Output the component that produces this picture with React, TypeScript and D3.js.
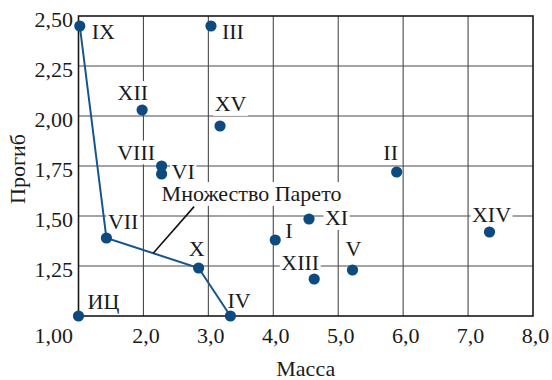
import React from "react";
import * as d3 from "d3";

// Variants of the structure: mass vs. deflection
const designs = ["ИЦ", "I", "II", "III", "IV", "V", "VI", "VII", "VIII", "IX", "X", "XI", "XII", "XIII", "XIV", "XV"];
const mass = [1.0, 4.03, 5.9, 3.04, 3.34, 5.22, 2.28, 1.43, 2.28, 1.02, 2.85, 4.55, 1.98, 4.63, 7.33, 3.18];
const deflection = [1.0, 1.38, 1.72, 2.45, 1.0, 1.23, 1.71, 1.39, 1.75, 2.45, 1.24, 1.485, 2.03, 1.185, 1.42, 1.95];

// Pareto front, in order along the curve
const paretoFront = ["IX", "VII", "X", "IV"];

const xTicks = [1.0, 2.0, 3.0, 4.0, 5.0, 6.0, 7.0, 8.0];
const yTicks = [1.0, 1.25, 1.5, 1.75, 2.0, 2.25, 2.5];

const xTitle = "Масса";
const yTitle = "Прогиб";
const frontTitle = "Множество Парето";

// Label placement around each marker: text anchor and offset from the dot centre
type Anchor = "start" | "middle" | "end";
const labelPlacement: Record<string, [Anchor, number, number]> = {
  "ИЦ": ["start", 9, -7],
  I: ["start", 10, -2.5],
  II: ["middle", -6, -12.5],
  III: ["start", 11, 13],
  IV: ["start", -3, -8],
  V: ["middle", 1, -14],
  VI: ["start", 10, 4.5],
  VII: ["start", 1.5, -9.5],
  VIII: ["end", -6.5, -6.5],
  IX: ["start", 12, 13],
  X: ["middle", -2, -12.5],
  XI: ["start", 16, 6],
  XII: ["end", 6, -10],
  XIII: ["end", 5, -9],
  XIV: ["middle", 2, -10],
  XV: ["middle", 10.5, -15],
};

const W = 552;
const H = 380;
const FONT_STACK = '"Liberation Serif", "Times New Roman", Tinos, serif';
const FS = 22;
const BLUE = "#0d4a7f";
const INK = "#1a1a1a";

const fmtX = (v: number) => v.toFixed(1).replace(".", ",");
const fmtY = (v: number) => v.toFixed(2).replace(".", ",");

let measureCtx: CanvasRenderingContext2D | null = null;
function textWidth(s: string): number {
  if (!measureCtx) {
    measureCtx = document.createElement("canvas").getContext("2d");
  }
  if (!measureCtx) return s.length * FS * 0.55;
  measureCtx.font = `${FS}px ${FONT_STACK}`;
  return measureCtx.measureText(s).width;
}

// white plate behind a label so grid lines stop at the text
function plate(s: string, tx: number, ty: number, anchor: Anchor, pad: number) {
  const w = textWidth(s);
  const left = anchor === "start" ? tx : anchor === "middle" ? tx - w / 2 : tx - w;
  return {
    x: left - pad,
    y: ty - FS * 0.86,
    width: w + 2 * pad,
    height: FS * 1.08,
  };
}

const txtStyle: React.CSSProperties = {
  fontFamily: FONT_STACK,
  fontSize: `${FS}px`,
  fill: INK,
};
const txt = { fontFamily: FONT_STACK, fontSize: FS, fill: INK, style: txtStyle };

export default function App() {
  const x = d3.scaleLinear().domain([1, 8]).range([78.5, 533]);
  const y = d3.scaleLinear().domain([1, 2.5]).range([316, 16]);

  const pts = designs.map((name, i) => ({ name, m: mass[i], d: deflection[i] }));
  const byName = new Map(pts.map((p) => [p.name, p]));

  const front = paretoFront.map((n) => byName.get(n)!);
  const frontPath = d3.line<{ m: number; d: number }>().x((p) => x(p.m)).y((p) => y(p.d))(front) || "";

  // leader from the caption down to the VII–X segment
  const a = byName.get("VII")!;
  const b = byName.get("X")!;
  const leadX = 2.15;
  const leadY = a.d + ((leadX - a.m) / (b.m - a.m)) * (b.d - a.d);

  const labels = pts.map((p) => {
    const [anchor, dx, dy] = labelPlacement[p.name];
    const lx = x(p.m) + dx;
    const ly = y(p.d) + dy;
    return { ...p, anchor, lx, ly, bg: plate(p.name, lx, ly, anchor, 1.5) };
  });

  const capX = x(2.28);
  const capY = y(1.575);
  const capBg = plate(frontTitle, capX, capY, "start", 2);

  return (
    <svg
      width={W}
      height={H}
      style={{ position: "absolute", left: 0, top: 0, background: "#fff", fontFamily: FONT_STACK }}
    >
      {/* grid */}
      <g stroke="#4a4a4a" strokeWidth={1.1}>
        {xTicks.slice(1, -1).map((t) => (
          <line key={`v${t}`} x1={x(t)} x2={x(t)} y1={y(2.5)} y2={y(1)} />
        ))}
        {yTicks.slice(1, -1).map((t) => (
          <line key={`h${t}`} x1={x(1)} x2={x(8)} y1={y(t)} y2={y(t)} />
        ))}
      </g>

      {/* plates behind labels */}
      <g fill="#fff">
        {labels.map((l) => (
          <rect key={`bg${l.name}`} {...l.bg} />
        ))}
        <rect {...capBg} />
      </g>

      {/* Pareto front */}
      <path d={frontPath} fill="none" stroke="#17548c" strokeWidth={2} />
      <line x1={x(2.78)} y1={y(1.547)} x2={x(leadX)} y2={y(leadY)} stroke="#111" strokeWidth={1.6} />

      {/* frame */}
      <rect
        x={x(1)}
        y={y(2.5)}
        width={x(8) - x(1)}
        height={y(1) - y(2.5)}
        fill="none"
        stroke={INK}
        strokeWidth={1.6}
      />

      {/* markers */}
      {pts.map((p) => (
        <circle key={`c${p.name}`} cx={x(p.m)} cy={y(p.d)} r={5.6} fill={BLUE} />
      ))}

      {/* point labels */}
      {labels.map((l) => (
        <text key={`t${l.name}`} x={l.lx} y={l.ly} textAnchor={l.anchor} {...txt}>
          {l.name}
        </text>
      ))}

      <text x={capX} y={capY} {...txt}>
        {frontTitle}
      </text>

      {/* x tick labels */}
      {xTicks.slice(1).map((t) => (
        <text key={`xt${t}`} x={x(t) + 2.5} y={343} textAnchor="middle" {...txt}>
          {fmtX(t)}
        </text>
      ))}

      {/* y tick labels; the corner value sits on the x-label row */}
      {yTicks.map((t) => (
        <text key={`yt${t}`} x={73} y={t === 1 ? 343 : y(t) + 10.5} textAnchor="end" {...txt}>
          {fmtY(t)}
        </text>
      ))}

      {/* axis titles */}
      <text x={(x(1) + x(8)) / 2} y={376} textAnchor="middle" {...txt}>
        {xTitle}
      </text>
      <text
        transform={`translate(25, ${(y(1) + y(2.5)) / 2 + 3}) rotate(-90)`}
        textAnchor="middle"
        {...txt}
      >
        {yTitle}
      </text>
    </svg>
  );
}
